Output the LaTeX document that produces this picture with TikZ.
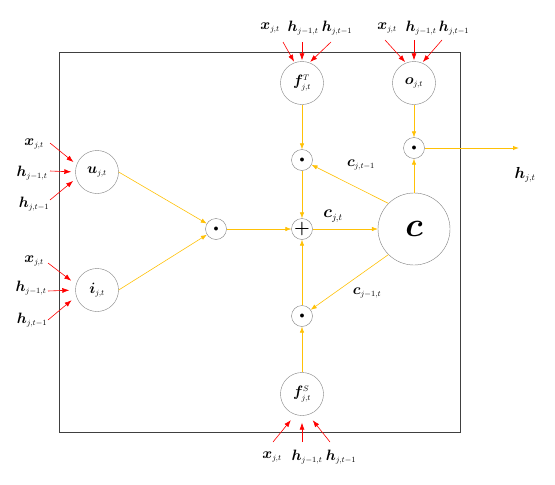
\RequirePackage{fix-cm}
\documentclass[tikz,border=0pt]{standalone}
\usepackage{amsmath,bm}
\usepackage{tikz}
\usetikzlibrary{arrows.meta}
\definecolor{flowyellow}{RGB}{255,193,7}
\DeclareMathSizes{15}{15}{8}{6}
\DeclareMathSizes{16}{16}{9}{6}
\DeclareMathSizes{17}{17}{9.5}{7}

\begin{document}
\begin{tikzpicture}[x=1pt, y=-1pt,
  gate/.style={draw=gray, circle, minimum size=43pt, inner sep=0pt,
    font=\fontsize{15}{17}\selectfont},
  op/.style={draw=gray, circle, minimum size=21pt, inner sep=0pt},
  lbl/.style={inner sep=0pt, font=\fontsize{15}{17}\selectfont},
  inarr/.style={-{Latex[length=7pt,width=5pt]}, red, line width=0.6pt},
  flow/.style={-{Latex[length=6pt,width=4.5pt]}, flowyellow, line width=0.6pt},
]
\useasboundingbox (0,0) rectangle (555,485);
\draw[darkgray, line width=1pt] (59,52) rectangle (460,432);

% gates
\node[gate] (u) at (97,172) {$\bm{u}_{j,t}$};
\node[gate] (i) at (97,290) {$\bm{i}_{j,t}$};
\node[gate] (ft) at (302,83) {$\bm{f}^{T}_{j,t}$};
\node[gate] (o) at (414,83) {$\bm{o}_{j,t}$};
\node[gate] (fs) at (302,394) {$\bm{f}^{S}_{j,t}$};
\node[draw=gray, circle, minimum size=72pt, inner sep=0pt,
  font=\fontsize{34}{36}\selectfont] (C) at (414,229) {$\bm{c}$};

% operations
\node[op] (dotl) at (216,229) {$\bullet$};
\node[op] (dott) at (302,160) {$\bullet$};
\node[op] (dotb) at (302,316) {$\bullet$};
\node[op] (doto) at (414,148) {$\bullet$};
\node[op, font=\fontsize{18}{20}\selectfont] (plus) at (302,229) {$\bm{+}$};
\coordinate (hout) at (519,148);

% input labels
\node[lbl] (xft) at (270,28) {$\bm{x}_{j,t}$};
\node[lbl] (hft1) at (303,28) {$\bm{h}_{j-1,t}$};
\node[lbl] (hft2) at (337,28) {$\bm{h}_{j,t-1}$};
\node[lbl] (xo) at (387,28) {$\bm{x}_{j,t}$};
\node[lbl] (ho1) at (421,28) {$\bm{h}_{j-1,t}$};
\node[lbl] (ho2) at (454,28) {$\bm{h}_{j,t-1}$};
\node[lbl] (xu) at (34,144) {$\bm{x}_{j,t}$};
\node[lbl] (hu1) at (32,173) {$\bm{h}_{j-1,t}$};
\node[lbl] (hu2) at (34,204) {$\bm{h}_{j,t-1}$};
\node[lbl] (xi) at (34,261) {$\bm{x}_{j,t}$};
\node[lbl] (hi1) at (31,288) {$\bm{h}_{j-1,t}$};
\node[lbl] (hi2) at (32,320) {$\bm{h}_{j,t-1}$};
\node[lbl] (xfs) at (272,457) {$\bm{x}_{j,t}$};
\node[lbl] (hfs1) at (307,457) {$\bm{h}_{j-1,t}$};
\node[lbl] (hfs2) at (341,457) {$\bm{h}_{j,t-1}$};

% arrow tails of the inputs
\coordinate (xft-s) at (283,42);
\coordinate (hft1-s) at (302,42);
\coordinate (hft2-s) at (331,42);
\coordinate (xo-s) at (385,40);
\coordinate (ho1-s) at (414,40);
\coordinate (ho2-s) at (442,40);
\coordinate (xu-s) at (50,143);
\coordinate (hu1-s) at (50,171);
\coordinate (hu2-s) at (50,200);
\coordinate (xi-s) at (48,263);
\coordinate (hi1-s) at (48,291);
\coordinate (hi2-s) at (48,320);
\coordinate (xfs-s) at (273,442);
\coordinate (hfs1-s) at (302,442);
\coordinate (hfs2-s) at (330,442);

% red inputs
\draw[inarr, shorten >=1pt] (xft-s) -- (ft.110);
\draw[inarr, shorten >=1pt] (hft1-s) -- (ft.90);
\draw[inarr, shorten >=1pt] (hft2-s) -- (ft.70);
\draw[inarr, shorten >=1pt] (xo-s) -- (o.112);
\draw[inarr, shorten >=1pt] (ho1-s) -- (o.90);
\draw[inarr, shorten >=1pt] (ho2-s) -- (o.68);
\draw[inarr, shorten >=4pt] (xu-s) -- (u.160);
\draw[inarr, shorten >=4pt] (hu1-s) -- (u.180);
\draw[inarr, shorten >=4pt] (hu2-s) -- (u.197);
\draw[inarr, shorten >=6pt] (xi-s) -- (i.165);
\draw[inarr, shorten >=6pt] (hi1-s) -- (i.180);
\draw[inarr, shorten >=6pt] (hi2-s) -- (i.197);
\draw[inarr, shorten >=7pt] (xfs-s) -- (fs.252);
\draw[inarr, shorten >=7pt] (hfs1-s) -- (fs.270);
\draw[inarr, shorten >=7pt] (hfs2-s) -- (fs.287);

% cell flow
\draw[flow] (u.east) -- (dotl);
\draw[flow] (i.east) -- (dotl);
\draw[flow] (dotl) -- (plus);
\draw[flow] (ft) -- (dott);
\draw[flow] (dott) -- (plus);
\draw[flow] (fs) -- (dotb);
\draw[flow] (dotb) -- (plus);
\draw[flow] (plus) -- (C);
\draw[flow] (C.135) -- (dott);
\draw[flow] (C.225) -- (dotb);
\draw[flow] (C) -- (doto);
\draw[flow] (o) -- (doto);
\draw[flow, line width=1pt] (doto) -- (hout);

% flow labels
\node[lbl] (cprev) at (361,165) {$\bm{c}_{j,t-1}$};
\node[lbl, font=\fontsize{17}{19}\selectfont] (ccur) at (333,216) {$\bm{c}_{j,t}$};
\node[lbl] (cleft) at (367,293) {$\bm{c}_{j-1,t}$};
\node[lbl, font=\fontsize{16}{18}\selectfont] (hlbl) at (525,175) {$\bm{h}_{j,t}$};
\end{tikzpicture}
\end{document}
